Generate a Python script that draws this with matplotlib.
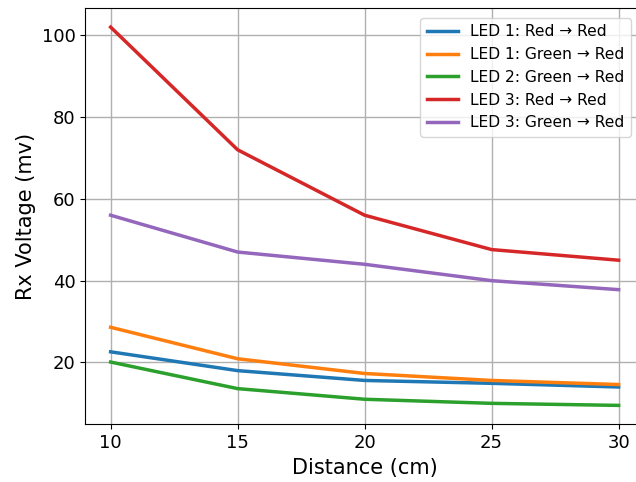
import matplotlib
matplotlib.use('Agg')
import matplotlib.pyplot as plt

# distances (cm) and measured receiver voltages (mV)
distance = [10, 15, 20, 25, 30]
led1_red_red = [22.6, 18.0, 15.6, 14.9, 14.0]
led1_green_red = [28.6, 20.9, 17.3, 15.6, 14.6]
led2_green_red = [20.1, 13.6, 11.0, 10.0, 9.5]
led3_red_red = [102, 72, 56, 47.6, 45.0]
led3_green_red = [56, 47, 44, 40, 37.8]

labels = ['LED 1: Red \u2192 Red', 'LED 1: Green \u2192 Red', 'LED 2: Green \u2192 Red',
          'LED 3: Red \u2192 Red', 'LED 3: Green \u2192 Red']
series = [led1_red_red, led1_green_red, led2_green_red, led3_red_red, led3_green_red]

fig = plt.figure(figsize=(6.36, 4.82), dpi=100)
# axes extend slightly past the right edge, as in the reference crop
ax = fig.add_axes([0.134, 0.1197, 1.0126 - 0.134, 0.983 - 0.1197])

for values, label in zip(series, labels):
    ax.plot(distance, values, linewidth=2.5, label=label)

ax.set_xlabel('Distance (cm)', fontsize=15)
ax.set_ylabel('Rx Voltage (mv)', fontsize=15)
ax.tick_params(labelsize=13)
ax.set_xticks(distance)
ax.grid(True, color='#b0b0b0', linewidth=1.0)
ax.legend(fontsize=11.2, loc='upper right', bbox_to_anchor=(0.99, 0.995))

plt.savefig('out.png', dpi=100)
